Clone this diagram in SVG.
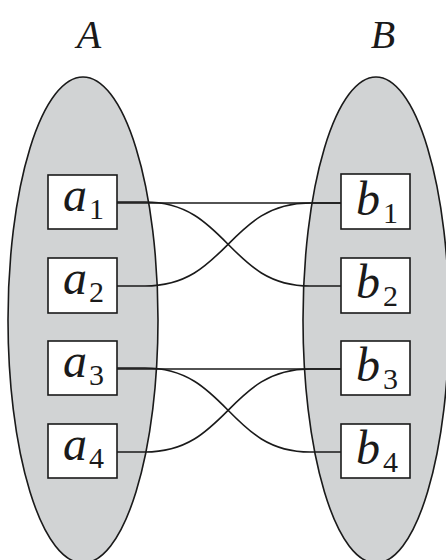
<svg xmlns="http://www.w3.org/2000/svg" width="446" height="560" viewBox="0 0 446 560">
<style>
.set{fill:#d1d3d4;stroke:#1a1a1a;stroke-width:1.6}
.box{fill:#fff;stroke:#1a1a1a;stroke-width:1.6}
.lbl{font-family:"Liberation Serif",serif;font-style:italic;fill:#1a1a1a}
.sub{font-family:"Liberation Serif",serif;fill:#1a1a1a;font-size:30px}
.main{font-size:48px}
.title{font-size:40px}
.edge{fill:none;stroke:#1a1a1a;stroke-width:1.6}
</style>
<rect width="446" height="560" fill="#fff"/>
<g id="setA">
<ellipse class="set" cx="83" cy="320" rx="75" ry="243"/>
<text class="lbl title" x="89" y="48" text-anchor="middle">A</text>
</g>
<g id="setB">
<ellipse class="set" cx="376" cy="320" rx="73" ry="243"/>
<text class="lbl title" x="383" y="48" text-anchor="middle">B</text>
</g>
<g id="connectors">
<path class="edge" d="M117,203 H341"/>
<path class="edge" d="M117,202 H145 C228,202 228,286 310,286 H341"/>
<path class="edge" d="M117,286 H145 C228,286 228,203 310,203 H341"/>
<path class="edge" d="M117,369 H341"/>
<path class="edge" d="M117,368 H145 C228,368 228,452 310,452 H341"/>
<path class="edge" d="M117,452 H145 C228,452 228,369 310,369 H341"/>
</g>
<g id="a1"><rect class="box" x="48" y="175" width="69" height="54"/><text class="lbl main" x="63" y="211">a</text><text class="sub" x="89" y="219">1</text></g>
<g id="a2"><rect class="box" x="48" y="258" width="69" height="55"/><text class="lbl main" x="63" y="294">a</text><text class="sub" x="89" y="302">2</text></g>
<g id="a3"><rect class="box" x="48" y="341" width="69" height="54"/><text class="lbl main" x="63" y="377">a</text><text class="sub" x="89" y="385">3</text></g>
<g id="a4"><rect class="box" x="48" y="424" width="69" height="54"/><text class="lbl main" x="63" y="460">a</text><text class="sub" x="89" y="468">4</text></g>
<g id="b1"><rect class="box" x="341" y="174" width="69" height="55"/><text class="lbl main" x="356" y="215">b</text><text class="sub" x="383" y="223">1</text></g>
<g id="b2"><rect class="box" x="341" y="258" width="69" height="55"/><text class="lbl main" x="356" y="298">b</text><text class="sub" x="383" y="306">2</text></g>
<g id="b3"><rect class="box" x="341" y="341" width="69" height="54"/><text class="lbl main" x="356" y="381">b</text><text class="sub" x="383" y="389">3</text></g>
<g id="b4"><rect class="box" x="341" y="424" width="69" height="54"/><text class="lbl main" x="356" y="464">b</text><text class="sub" x="383" y="472">4</text></g>
</svg>
